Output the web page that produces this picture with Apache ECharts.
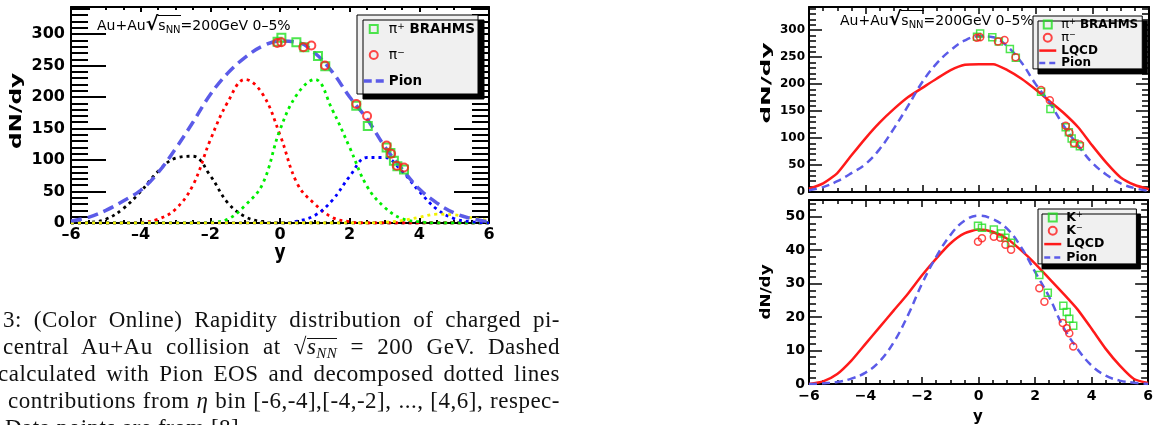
<!DOCTYPE html>
<html>
<head>
<meta charset="utf-8">
<title>Rapidity distribution</title>
<script src="https://cdn.jsdelivr.net/npm/echarts@6/dist/echarts.min.js"></script>
<style>
  body { margin: 0; background: #fff; }
  .page { position: relative; width: 1156px; height: 425px; overflow: hidden; background: #fff; }
  #main { position: absolute; left: 0; top: 0; width: 1156px; height: 425px; }
  .ann { position: absolute; font-family: 'DejaVu Sans'; font-size: 14px; line-height: 17px; white-space: nowrap; color: #000; }
  .ann .rt { font-weight: bold; font-size: 19px; line-height: 0; }
  .ann .ol { border-top: 1.5px solid #000; padding-top: 1px; }
  .ann sub { font-size: 10px; vertical-align: -3px; line-height: 0; }
  .cap { position: absolute; font-family: 'Liberation Serif', serif; font-size: 23px; letter-spacing: 0.5px; line-height: 27px; color: #111; white-space: nowrap; }
  .cap .ov { display: inline-block; line-height: 15px; border-top: 1px solid #111; }
  .cap sub { font-size: 15px; vertical-align: -4px; line-height: 0; }
</style>
</head>
<body>
<div class="page">
  <div id="main"></div>
  <div class="ann" style="left:97px;top:17px">Au+Au<span class="rt">√</span><span class="ol">s<sub>NN</sub></span>=200GeV 0–5%</div>
  <div class="ann" style="left:840px;top:12px">Au+Au<span class="rt">√</span><span class="ol">s<sub>NN</sub></span>=200GeV 0–5%</div>
  <div class="cap" data-right="560" style="left:3px;top:306px">3: (Color Online) Rapidity distribution of charged pi-</div>
  <div class="cap" data-right="560" style="left:3px;top:333px">central Au+Au collision at √<span class="ov"><i>s</i><sub><i>NN</i></sub></span> = 200 GeV. Dashed</div>
  <div class="cap" data-right="560" style="left:-2px;top:360px">calculated with Pion EOS and decomposed dotted lines</div>
  <div class="cap" data-right="560" style="left:8px;top:387px">contributions from <i>η</i> bin [-6,-4],[-4,-2], ..., [4,6], respec-</div>
  <div class="cap" style="left:5px;top:414px">Data points are from [8].</div>
</div>
<script>
// rapidity grid used by all model curves
const yGrid = [-6, -5.5, -5, -4.5, -4, -3.5, -3, -2.5, -2, -1.5, -1, -0.5, 0, 0.5, 1, 1.5, 2, 2.5, 3, 3.5, 4, 4.5, 5, 5.5, 6]

// pion EOS (dashed) and its decomposition into eta bins (dotted)
const pionPi = [3, 9, 20, 35, 52, 80, 118, 160, 204, 238, 263, 281, 289, 287, 270, 240, 200, 165, 122, 86, 54, 32, 16, 7, 2]
const binM4M2 = [0, 1, 6, 23, 50, 82, 103, 106, 75, 32, 10, 2, 0, 0, 0, 0, 0, 0, 0, 0, 0, 0, 0, 0, 0]
const binM2M0 = [0, 0, 0, 0, 1, 6, 22, 60, 132, 192, 228, 205, 140, 62, 30, 9, 2, 0, 0, 0, 0, 0, 0, 0, 0]
const bin0P2 = [0, 0, 0, 0, 0, 0, 0, 0, 1, 6, 28, 62, 148, 205, 228, 180, 120, 58, 25, 7, 2, 0, 0, 0, 0]
const binP2P4 = [0, 0, 0, 0, 0, 0, 0, 0, 0, 0, 0, 0, 0, 3, 12, 36, 74, 104, 104, 82, 50, 22, 7, 2, 0]
const binP4P6 = [0, 0, 0, 0, 0, 0, 0, 0, 0, 0, 0, 0, 0, 0, 0, 0, 0, 0, 1, 4, 9, 14, 13, 8, 4]

// lattice QCD EOS
const lqcdPi = [6, 16, 35, 68, 100, 129, 154, 176, 193, 210, 226, 236, 237, 237, 226, 210, 190, 168, 146, 120, 86, 54, 27, 13, 5]
const lqcdK = [0, 0.8, 3, 7, 12, 17, 22, 27, 32.5, 37.5, 42, 45, 46.2, 45.5, 43.5, 40, 36, 31.5, 27, 22.3, 16.5, 10.5, 5.5, 1.5, 0.3]
const pionK = [0, 0.2, 0.6, 1.6, 3.4, 6.8, 12.5, 20.5, 30, 38, 44.5, 48.8, 50.3, 49.3, 46.5, 41, 33.5, 26, 17, 10.5, 5.5, 2.5, 1, 0.4, 0]

// BRAHMS data
const piPlusY = [-0.07, 0.04, 0.47, 0.7, 1.09, 1.3, 2.19, 2.52, 3.06, 3.17, 3.27, 3.37, 3.56]
const piPlusN = [288, 294, 287, 279, 265, 249, 186, 154, 120, 111, 99, 90, 85]
const piMinusY = [-0.08, 0.04, 0.67, 0.9, 1.29, 2.19, 2.5, 3.06, 3.19, 3.35, 3.56]
const piMinusN = [286, 287, 279, 282, 250, 189, 170, 123, 110, 91, 88]
const kPlusY = [-0.02, 0.12, 0.54, 0.8, 0.95, 1.15, 2.15, 2.45, 3.0, 3.12, 3.21, 3.35]
const kPlusN = [47.3, 46.7, 46.2, 45, 43.7, 42.2, 32.6, 27.3, 23.4, 21.5, 19.5, 17.4]
const kMinusY = [-0.02, 0.12, 0.54, 0.77, 0.95, 1.15, 2.15, 2.33, 2.98, 3.12, 3.21, 3.35]
const kMinusN = [42.5, 43.6, 44, 43.7, 41.6, 40.1, 28.6, 24.6, 18.2, 16.7, 15.2, 11.2]

const GREEN = '#22e022'
const RED = '#ff1a1a'
const PION = '#5b5be8'
const FONT = 'DejaVu Sans'
const SQUARE = 'path://M0,0H10V10H0Z'

const pairs = (xs, ys) => xs.map((x, i) => [x, ys[i]])
const enDash = v => String(v).replace('-', '–')
const minus = v => String(v).replace('-', '−')

const xPair = (gridIndex, s) => {
  const tickLine = { color: '#000', width: s.tw }
  const common = {
    gridIndex,
    type: 'value',
    min: -6,
    max: 6,
    interval: 2,
    splitLine: { show: false },
    axisLine: { show: true, onZero: false, lineStyle: { color: '#000', width: 2 } },
    axisTick: { show: true, inside: true, length: s.tick, lineStyle: tickLine },
    minorTick: { show: true, splitNumber: 4, length: s.minor, lineStyle: tickLine }
  }
  return [
    {
      ...common,
      position: 'bottom',
      axisLabel: {
        show: s.label,
        margin: s.margin,
        fontFamily: FONT,
        fontWeight: 'bold',
        fontSize: s.font,
        color: '#000',
        formatter: s.fmt
      }
    },
    { ...common, position: 'top', axisLabel: { show: false } }
  ]
}

const yPair = (gridIndex, s) => {
  const tickLine = { color: '#000', width: s.tw }
  const common = {
    gridIndex,
    type: 'value',
    min: 0,
    max: s.max,
    interval: s.interval,
    splitLine: { show: false },
    axisLine: { show: true, onZero: false, lineStyle: { color: '#000', width: 2 } },
    axisTick: { show: true, inside: true, length: s.tick, lineStyle: tickLine },
    minorTick: { show: true, splitNumber: 5, length: s.minor, lineStyle: tickLine }
  }
  return [
    {
      ...common,
      position: 'left',
      axisLabel: {
        show: true,
        margin: s.margin,
        fontFamily: FONT,
        fontWeight: 'bold',
        fontSize: s.font,
        color: '#000',
        showMaxLabel: false
      }
    },
    { ...common, position: 'right', axisLabel: { show: false } }
  ]
}

const curve = (name, gi, ys, lineStyle, smooth) => ({
  type: 'line',
  name,
  xAxisIndex: gi * 2,
  yAxisIndex: gi * 2,
  data: pairs(yGrid, ys),
  smooth,
  symbol: 'none',
  silent: true,
  lineStyle
})

const points = (name, gi, xs, ys, symbol, color, size, bw) => ({
  type: 'scatter',
  name,
  xAxisIndex: gi * 2,
  yAxisIndex: gi * 2,
  data: pairs(xs, ys),
  symbol,
  symbolSize: size,
  silent: true,
  z: 5,
  itemStyle: { color: 'rgba(0,0,0,0)', borderColor: color, borderWidth: bw }
})

const dots = (name, ys, color) => curve(name, 0, ys, { color, width: 2.8, type: [3, 4], cap: 'butt' }, 0.4)

const legendText = {
  piPlusL: '{n|π}{s|+}{b| BRAHMS}',
  piMinusL: '{n|π}{s|−}',
  pionL: '{b|Pion}',
  piPlusR: '{n|π}{s|+}{b| BRAHMS}',
  piMinusR: '{n|π}{s|−}',
  lqcdPi: '{b|LQCD}',
  pionR: '{b|Pion}',
  kPlus: '{b|K}{s|+}',
  kMinus: '{b|K}{s|−}',
  lqcdK: '{b|LQCD}',
  pionK: '{b|Pion}'
}

const rich = (big, small, bold, lh) => ({
  n: { fontFamily: FONT, fontSize: big, lineHeight: lh, color: '#000' },
  s: { fontFamily: FONT, fontSize: small, lineHeight: small, verticalAlign: 'top', color: '#000' },
  b: { fontFamily: FONT, fontWeight: 'bold', fontSize: bold, lineHeight: lh, color: '#000' }
})

const legendBox = {
  orient: 'vertical',
  selectedMode: false,
  backgroundColor: '#f0f0f0',
  borderColor: '#000',
  borderWidth: 1,
  borderRadius: 0,
  shadowColor: '#000',
  shadowBlur: 0,
  formatter: name => legendText[name]
}

const option = {
  backgroundColor: '#fff',
  animation: false,
  grid: [
    { left: 71, top: 7, width: 418, height: 216 },
    { left: 809, top: 7, width: 340, height: 185 },
    { left: 809, top: 200, width: 340, height: 184 }
  ],
  xAxis: [
    ...xPair(0, { tick: 5, minor: 3, tw: 2, label: true, margin: 4, font: 16, fmt: enDash }),
    ...xPair(1, { tick: 7, minor: 4, tw: 1.5, label: false }),
    ...xPair(2, { tick: 7, minor: 4, tw: 1.5, label: true, margin: 5, font: 14, fmt: minus })
  ],
  yAxis: [
    ...yPair(0, { max: 343, interval: 50, tick: 35, minor: 17, tw: 2, margin: 6, font: 16 }),
    ...yPair(1, { max: 343, interval: 50, tick: 13, minor: 7, tw: 1.5, margin: 4, font: 12 }),
    ...yPair(2, { max: 55, interval: 10, tick: 13, minor: 7, tw: 1.5, margin: 4, font: 14 })
  ],
  legend: [
    {
      ...legendBox,
      left: 357,
      top: 15,
      padding: [7, 3, 6, 5],
      itemWidth: 20,
      itemHeight: 8,
      itemGap: 12,
      shadowOffsetX: 6,
      shadowOffsetY: 5,
      textStyle: { rich: rich(14, 9, 13.5, 14) },
      data: [
        { name: 'piPlusL', icon: SQUARE },
        { name: 'piMinusL', icon: 'circle' },
        { name: 'pionL', itemStyle: { opacity: 0 }, lineStyle: { width: 3.5, type: [8, 4] } }
      ]
    },
    {
      ...legendBox,
      left: 1033,
      top: 16,
      padding: [2, 4, 0, 5],
      itemWidth: 17,
      itemHeight: 8,
      itemGap: 0.3,
      shadowOffsetX: 5,
      shadowOffsetY: 5,
      textStyle: { rich: rich(13, 8, 12, 13) },
      data: [
        { name: 'piPlusR', icon: SQUARE },
        { name: 'piMinusR', icon: 'circle' },
        { name: 'lqcdPi', itemStyle: { opacity: 0 }, lineStyle: { width: 2.5, type: 'solid' } },
        { name: 'pionR', itemStyle: { opacity: 0 }, lineStyle: { width: 2.5, type: [6, 4] } }
      ]
    },
    {
      ...legendBox,
      left: 1038,
      top: 209,
      padding: [2, 32, 0, 5],
      itemWidth: 17,
      itemHeight: 8,
      itemGap: 0.3,
      shadowOffsetX: 4,
      shadowOffsetY: 5,
      textStyle: { rich: rich(13, 8, 12.5, 13) },
      data: [
        { name: 'kPlus', icon: SQUARE },
        { name: 'kMinus', icon: 'circle' },
        { name: 'lqcdK', itemStyle: { opacity: 0 }, lineStyle: { width: 2.5, type: 'solid' } },
        { name: 'pionK', itemStyle: { opacity: 0 }, lineStyle: { width: 2.5, type: [6, 4] } }
      ]
    }
  ],
  graphic: [
    { type: 'text', x: 17, y: 111, rotation: Math.PI / 2, scaleX: 1.45, style: { text: 'dN/dy', font: 'bold 16px "DejaVu Sans"', fill: '#000', align: 'center', verticalAlign: 'middle' } },
    { type: 'text', x: 280, y: 254, scaleY: 1.2, style: { text: 'y', font: 'bold 17px "DejaVu Sans"', fill: '#000', align: 'center', verticalAlign: 'middle' } },
    { type: 'text', x: 767, y: 83, rotation: Math.PI / 2, scaleX: 1.9, style: { text: 'dN/dy', font: 'bold 13px "DejaVu Sans"', fill: '#000', align: 'center', verticalAlign: 'middle' } },
    { type: 'text', x: 766, y: 292, rotation: Math.PI / 2, scaleX: 1.2, style: { text: 'dN/dy', font: 'bold 14px "DejaVu Sans"', fill: '#000', align: 'center', verticalAlign: 'middle' } },
    { type: 'text', x: 978, y: 417, style: { text: 'y', font: 'bold 15px "DejaVu Sans"', fill: '#000', align: 'center', verticalAlign: 'middle' } }
  ],
  series: [
    dots('binM4M2', binM4M2, '#000'),
    dots('binM2M0', binM2M0, '#ff0000'),
    dots('bin0P2', bin0P2, '#00ee00'),
    dots('binP2P4', binP2P4, '#0000ff'),
    dots('binP4P6', binP4P6, '#f2f200'),
    curve('pionL', 0, pionPi, { color: PION, width: 3.5, type: [11, 6] }, 0.4),
    points('piPlusL', 0, piPlusY, piPlusN, 'rect', GREEN, 8, 2),
    points('piMinusL', 0, piMinusY, piMinusN, 'circle', RED, 8, 2),

    curve('lqcdPi', 1, lqcdPi, { color: RED, width: 2.5 }, 0.2),
    curve('pionR', 1, pionPi, { color: PION, width: 2.5, type: [8, 5] }, 0.4),
    points('piPlusR', 1, piPlusY, piPlusN, 'rect', GREEN, 7, 1.5),
    points('piMinusR', 1, piMinusY, piMinusN, 'circle', RED, 7, 1.5),

    curve('lqcdK', 2, lqcdK, { color: RED, width: 2.5 }, 0.2),
    curve('pionK', 2, pionK, { color: PION, width: 2.5, type: [8, 5] }, 0.4),
    points('kPlus', 2, kPlusY, kPlusN, 'rect', GREEN, 7, 1.5),
    points('kMinus', 2, kMinusY, kMinusN, 'circle', RED, 7, 1.5)
  ]
}

const chart = echarts.init(document.getElementById('main'))
chart.setOption(option)

// stretch each caption line so that it ends at the justified right margin
const justify = () => {
  document.querySelectorAll('.cap[data-right]').forEach(el => {
    el.style.wordSpacing = '0px'
    const box = el.getBoundingClientRect()
    const spaces = (el.textContent.match(/ /g) || []).length
    const extra = Number(el.dataset.right) - box.right
    if (spaces) el.style.wordSpacing = extra / spaces + 'px'
  })
}
justify()
if (document.fonts) document.fonts.ready.then(justify)
</script>
</body>
</html>
